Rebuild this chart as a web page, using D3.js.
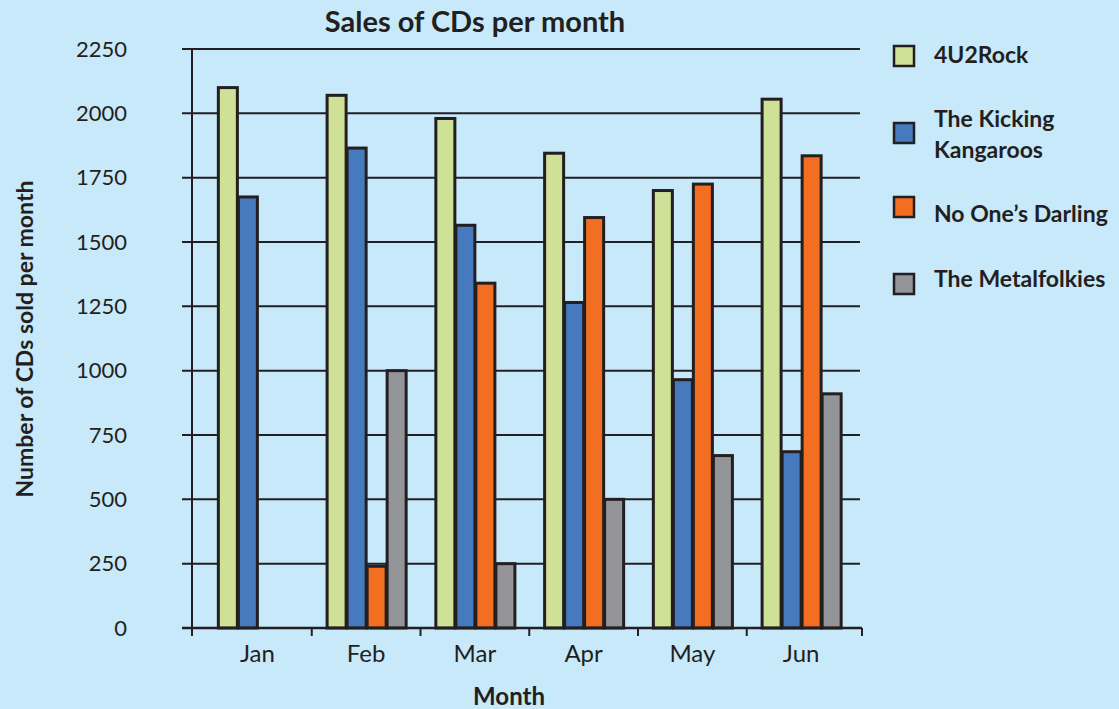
<!DOCTYPE html>
<html>
<head>
<meta charset="utf-8">
<script src="https://cdn.jsdelivr.net/npm/d3@7"></script>
<style>
  html, body { margin: 0; padding: 0; background: #c7e9f9; }
  svg { display: block; font-family: Lato, "Open Sans", sans-serif; }
</style>
</head>
<body>
<svg id="chart" width="1119" height="709"></svg>
<script>
// Monthly CD sales per band
const months = ["Jan", "Feb", "Mar", "Apr", "May", "Jun"];
const bands = ["4U2Rock", "The Kicking Kangaroos", "No One\u2019s Darling", "The Metalfolkies"];
const legendLines = [["4U2Rock"], ["The Kicking", "Kangaroos"], ["No One\u2019s Darling"], ["The Metalfolkies"]];
const rock4u2 = [2100, 2070, 1980, 1845, 1700, 2055];
const kickingKangaroos = [1675, 1865, 1565, 1265, 965, 685];
const noOnesDarling = [null, 240, 1340, 1595, 1725, 1835];
const metalfolkies = [null, 1000, 250, 500, 670, 910];
const yTicks = [0, 250, 500, 750, 1000, 1250, 1500, 1750, 2000, 2250];
const colors = ["#cee197", "#4679be", "#f26f22", "#939598"];

const series = [rock4u2, kickingKangaroos, noOnesDarling, metalfolkies];
const ink = "#231f20";

const svg = d3.select("#chart");
const plotLeft = 192, plotRight = 862, plotTop = 49, plotBottom = 628;

const x0 = d3.scaleBand().domain(months).range([203, 855.5]).paddingInner(0.264).paddingOuter(0.132);
const x1 = d3.scaleBand().domain(d3.range(bands.length)).range([0, x0.bandwidth()]);
const y = d3.scaleLinear().domain([0, 2250]).range([plotBottom, plotTop]);

// horizontal grid lines with short ticks to the left of the axis
svg.append("g").selectAll("line").data(yTicks.filter(d => d > 0)).join("line")
  .attr("x1", plotLeft - 10).attr("x2", plotRight - 2)
  .attr("y1", d => y(d)).attr("y2", d => y(d))
  .attr("stroke", ink).attr("stroke-width", 2);

// y tick labels
svg.append("g").selectAll("text").data(yTicks).join("text")
  .attr("x", 127).attr("y", d => y(d)).attr("dy", "0.35em")
  .attr("text-anchor", "end")
  .attr("font-size", 22).attr("fill", ink)
  .text(d => d);

// bars
const groups = svg.append("g").selectAll("g").data(months).join("g")
  .attr("transform", m => `translate(${x0(m)},0)`);
groups.each(function (m, i) {
  const g = d3.select(this);
  const vals = series.map((s, k) => ({ k, v: s[i] })).filter(d => d.v != null);
  g.selectAll("rect").data(vals).join("rect")
    .attr("x", d => x1(d.k) + 1)
    .attr("width", x1.bandwidth() - 1)
    .attr("y", d => y(d.v))
    .attr("height", d => y(0) - y(d.v))
    .attr("fill", d => colors[d.k])
    .attr("stroke", ink).attr("stroke-width", 3);
});

// axis lines
svg.append("line").attr("x1", plotLeft).attr("x2", plotLeft).attr("y1", plotTop).attr("y2", plotBottom + 8)
  .attr("stroke", ink).attr("stroke-width", 2);
svg.append("line").attr("x1", plotLeft - 10).attr("x2", plotRight).attr("y1", plotBottom).attr("y2", plotBottom)
  .attr("stroke", ink).attr("stroke-width", 2.5);
const bounds = months.slice(1).map(m => x0(m) - x0.step() * x0.paddingInner() / 2);
bounds.unshift(plotLeft);
bounds.push(plotRight);
svg.append("g").selectAll("line").data(bounds).join("line")
  .attr("x1", d => d).attr("x2", d => d).attr("y1", plotBottom).attr("y2", plotBottom + 8)
  .attr("stroke", ink).attr("stroke-width", 2);

// month labels
svg.append("g").selectAll("text").data(months).join("text")
  .attr("x", m => x0(m) + x0.bandwidth() / 2).attr("y", 662)
  .attr("text-anchor", "middle").attr("font-size", 24).attr("fill", ink)
  .text(m => m);

// titles
svg.append("text").attr("x", 475).attr("y", 32).attr("text-anchor", "middle")
  .attr("font-size", 29).attr("font-weight", "bold").attr("fill", ink)
  .text("Sales of CDs per month");
svg.append("text").attr("x", 509).attr("y", 705).attr("text-anchor", "middle")
  .attr("font-size", 24).attr("font-weight", "bold").attr("fill", ink)
  .text("Month");
svg.append("text").attr("transform", "translate(33,339) rotate(-90)").attr("text-anchor", "middle")
  .attr("font-size", 23).attr("font-weight", "bold").attr("fill", ink)
  .text("Number of CDs sold per month");

// legend
const legendY = [45, 122, 196, 273];
const lg = svg.append("g").selectAll("g").data(bands).join("g")
  .attr("transform", (d, i) => `translate(893,${legendY[i]})`);
lg.append("rect").attr("x", 1).attr("y", 1).attr("width", 20).attr("height", 20)
  .attr("fill", (d, i) => colors[i]).attr("stroke", ink).attr("stroke-width", 2.5);
lg.each(function (d, i) {
  const lines = legendLines[i];
  const t = d3.select(this).append("text").attr("x", 41)
    .attr("font-size", 23).attr("font-weight", "bold").attr("fill", ink);
  const y0 = lines.length === 1 ? (i === 3 ? 14 : (i === 2 ? 26 : 18)) : 5;
  lines.forEach((l, j) => t.append("tspan").attr("x", 41).attr("y", y0 + j * 31).text(l));
});
</script>
</body>
</html>
